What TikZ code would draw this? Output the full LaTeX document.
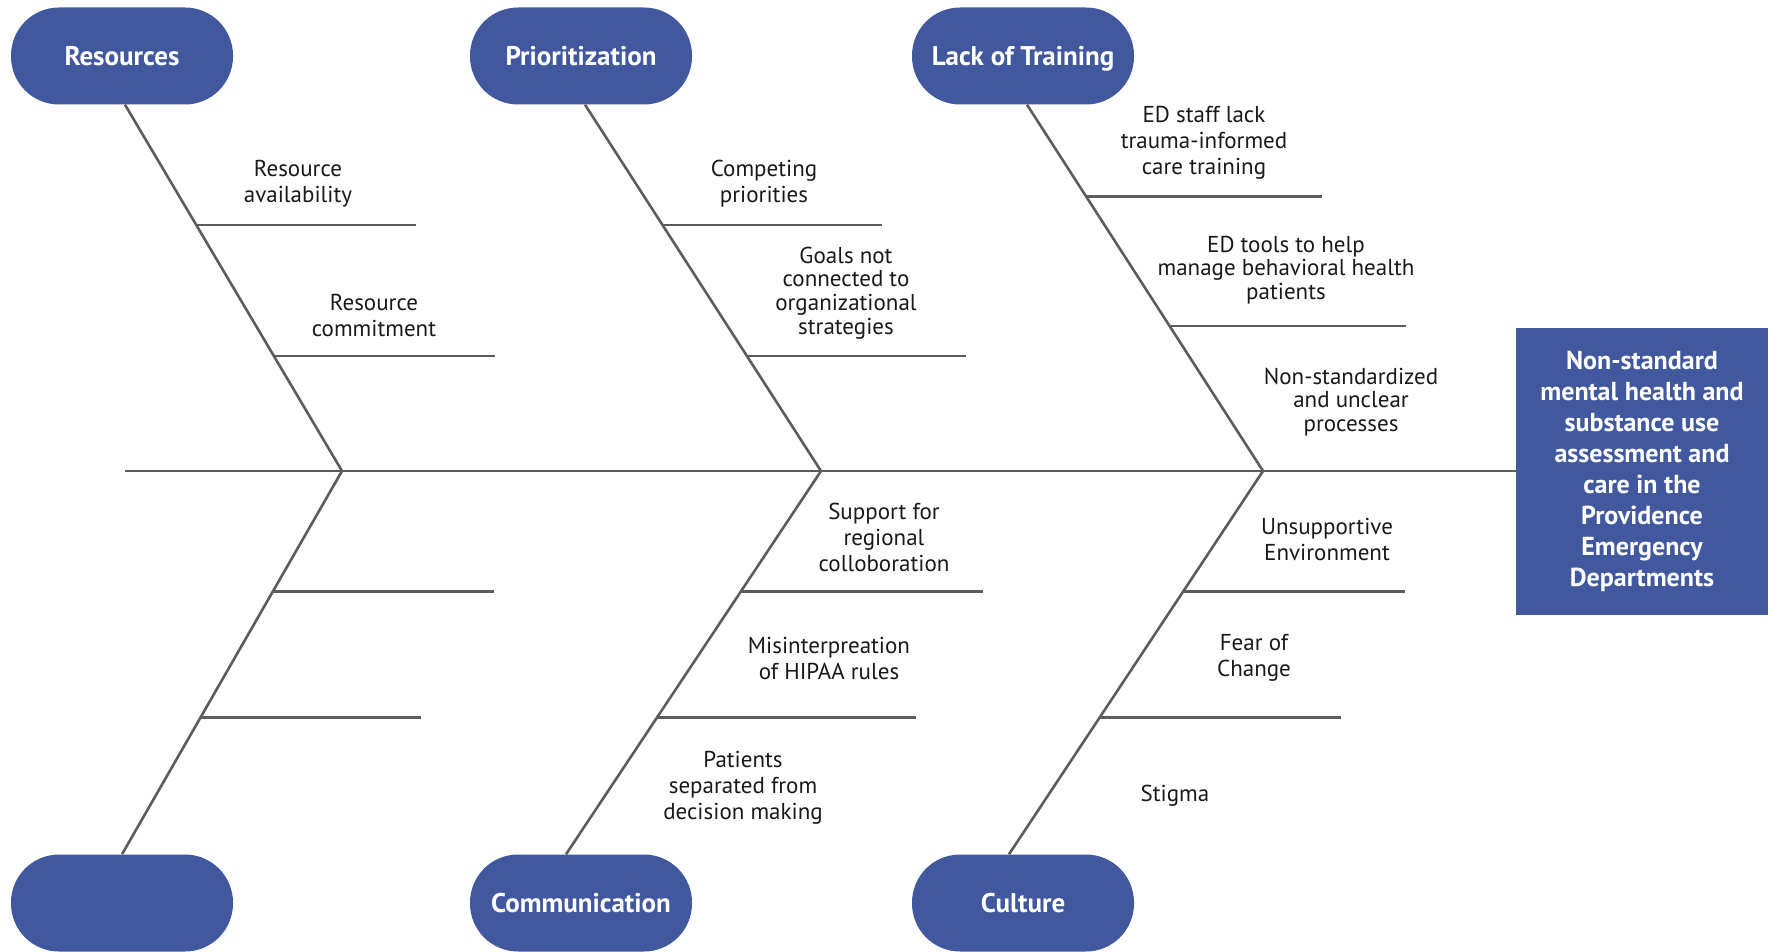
\documentclass[tikz,border=0pt]{standalone}
\usepackage{fontspec}
\setmainfont{PT Sans}
\usetikzlibrary{positioning,calc}
\definecolor{fishblue}{RGB}{66,88,158}
\definecolor{bonegray}{RGB}{92,92,92}
\definecolor{labelink}{RGB}{25,25,25}

\begin{document}
\begin{tikzpicture}[x=1pt, y=-1pt,
    cat/.style={rectangle, rounded corners=48pt, fill=fishblue, minimum width=222pt, minimum height=97pt, text=white, font=\fontsize{27}{31}\selectfont\bfseries, text height=24pt, text depth=5pt, inner sep=0pt},
    effect/.style={rectangle, fill=fishblue, minimum width=252pt, minimum height=287pt, text=white, align=center, font=\fontsize{26}{31}\selectfont\bfseries, inner sep=0pt},
    bone/.style={line width=2.6pt, bonegray},
    cause/.style={align=center, text=labelink, font=\fontsize{23}{26}\selectfont, inner sep=0pt},
    tight/.style={font=\fontsize{23}{23.7}\selectfont}]

    \useasboundingbox (0,0) rectangle (1771,952);

    % Categories
    \node[cat] (res) at (122,56) {Resources};
    \node[cat] (prio) at (581,56) {Prioritization};
    \node[cat] (train) at (1023,56) {Lack of Training};
    \node[cat] (blank) at (122,903) {};
    \node[cat] (comm) at (581,903) {Communication};
    \node[cat] (cult) at (1023,903) {Culture};

    % Effect
    \node[effect] (effect) at (1642,471) {Non-standard\\mental health and\\substance use\\assessment and\\care in the\\Providence\\Emergency\\Departments};

    % Spine
    \coordinate (tail) at (125,471);
    \coordinate (j1) at (342,471);
    \coordinate (j2) at (821,471);
    \coordinate (j3) at (1263,471);
    \draw[bone] (tail) -- (effect.west);

    % Bones
    \draw[bone] ([xshift=3pt]res.south) -- coordinate[pos=0.328] (r1) coordinate[pos=0.686] (r2) (j1);
    \draw[bone] (j1) -- coordinate[pos=0.315] (r3) coordinate[pos=0.643] (r4) (blank.north);
    \draw[bone] ([xshift=4pt]prio.south) -- coordinate[pos=0.328] (p1) coordinate[pos=0.686] (p2) (j2);
    \draw[bone] (j2) -- coordinate[pos=0.315] (p3) coordinate[pos=0.643] (p4) ([xshift=-15pt]comm.north);
    \draw[bone] ([xshift=4pt]train.south) -- coordinate[pos=0.251] (t1) coordinate[pos=0.604] (t2) (j3);
    \draw[bone] (j3) -- coordinate[pos=0.315] (c1) coordinate[pos=0.643] (c2) ([xshift=-14pt]cult.north);

    % Sub-bones
    \draw[bone] (r1) -- ++(220,0);
    \draw[bone] (r2) -- ++(221,0);
    \draw[bone] (r3) -- ++(221,0);
    \draw[bone] (r4) -- ++(220,0);
    \draw[bone] (p1) -- ++(220,0);
    \draw[bone] (p2) -- ++(219,0);
    \draw[bone] (p3) -- ++(242,0);
    \draw[bone] (p4) -- ++(259,0);
    \draw[bone] (t1) -- ++(236,0);
    \draw[bone] (t2) -- ++(236,0);
    \draw[bone] (c1) -- ++(222,0);
    \draw[bone] (c2) -- ++(241,0);

    % Causes
    \node[cause] (ra) at (298,184) {Resource\\availability};
    \node[cause] (rc) at (374,315) {Resource\\commitment};
    \node[cause] (cp) at (764,184) {Competing\\priorities};
    \node[cause, tight] (gn) at (846,293) {Goals not\\connected to\\organizational\\strategies};
    \node[cause] (ed) at (1204,143) {ED staff lack\\trauma-informed\\care training};
    \node[cause, tight] (et) at (1286,270) {ED tools to help\\manage behavioral health\\patients};
    \node[cause, tight] (ns) at (1351,402) {Non-standardized\\and unclear\\processes};
    \node[cause] (ue) at (1327,539) {Unsupportive\\Environment};
    \node[cause] (fc) at (1254,658) {Fear of\\Change};
    \node[cause] (st) at (1175,796) {Stigma};
    \node[cause] (sr) at (884,537) {Support for\\regional\\colloboration};
    \node[cause] (mh) at (829,658) {Misinterpreation\\of HIPAA rules};
    \node[cause] (ps) at (743,788) {Patients\\separated from\\decision making};
\end{tikzpicture}
\end{document}
